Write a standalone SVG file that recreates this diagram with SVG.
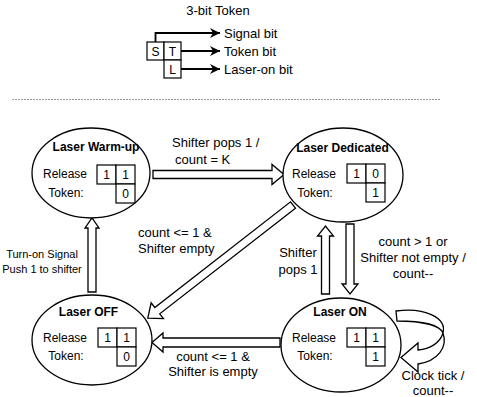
<svg xmlns="http://www.w3.org/2000/svg" width="477" height="397" viewBox="0 0 477 397">
<style>
text{font-family:"Liberation Sans",Arial,sans-serif;font-size:12px;fill:#000}
.lb{font-size:13px}
.sm{font-size:11px}
.t{font-weight:bold}
.c{text-anchor:middle}
.e{text-anchor:end}
.n{fill:#fff;stroke:#000;stroke-width:1.3}
.b{fill:#fff;stroke:#000;stroke-width:1.2}
.a{fill:#fff;stroke:#000;stroke-width:1.3;stroke-linejoin:miter}
.l{fill:none;stroke:#000;stroke-width:1.8}
</style>
<defs>
<marker id="ah" markerUnits="userSpaceOnUse" markerWidth="11" markerHeight="10" refX="10" refY="5" orient="auto">
<path d="M0,0 L10,5 L0,10 L3,5 Z" fill="#000"/>
</marker>
</defs>
<rect width="477" height="397" fill="#fff"/>
<g id="legend">
<text class="c lb" x="218" y="15">3-bit Token</text>
<rect class="b" x="147" y="42" width="17" height="18"/>
<rect class="b" x="164" y="42" width="17" height="18"/>
<rect class="b" x="164" y="60" width="17" height="18"/>
<text class="c" x="155.5" y="55.5">S</text>
<text class="c" x="172.5" y="55.5">T</text>
<text class="c" x="172.5" y="73.5">L</text>
<path class="l" d="M155.5,42 V33 H220" marker-end="url(#ah)"/>
<path class="l" d="M181,51 H220" marker-end="url(#ah)"/>
<path class="l" d="M181,69 H220" marker-end="url(#ah)"/>
<text class="lb" x="224" y="38">Signal bit</text>
<text class="lb" x="224" y="56">Token bit</text>
<text class="lb" x="224" y="74">Laser-on bit</text>
</g>
<line x1="12" y1="99.5" x2="440" y2="99.5" stroke="#999" stroke-width="1" stroke-dasharray="2,1"/>
<g id="connectors">
<polygon class="a" points="153,170.5 272,170.5 272,164.5 284,174.5 272,184.5 272,178.5 153,178.5"/>
<polygon class="a" transform="translate(293,205) rotate(142.1)" points="0,-4 172,-4 172,-10 184,0 172,10 172,4 0,4"/>
<polygon class="a" points="88,292 88,228 85,228 92,218 99,228 96,228 96,292"/>
<polygon class="a" points="280,338 163,338 163,333 152,342.5 163,352 163,347 280,347"/>
<polygon class="a" points="321.5,294 321.5,236 317.5,236 325.5,226 333.5,236 329.5,236 329.5,294"/>
<polygon class="a" points="346,224 346,284 342,284 350,294 358,284 354,284 354,224"/>
<path class="a" d="M396,311 C425,307 447,318 443,333 C440,343 430,349 418,350 L418,343 L401,357.5 L418,372 L418,364 C438,361 448,347 443,333 C440,326 425,321 397,321 Z"/>
<text class="lb" x="172" y="147">Shifter pops 1 /</text>
<text class="lb" x="175" y="164">count = K</text>
<text class="lb" x="138" y="237">count &lt;= 1 &amp;</text>
<text class="lb" x="138" y="253">Shifter empty</text>
<text class="c sm" x="42" y="258">Turn-on Signal</text>
<text class="c sm" x="42" y="273">Push 1 to shifter</text>
<text class="c lb" x="298" y="257">Shifter</text>
<text class="c lb" x="298" y="274">pops 1</text>
<text class="c lb" x="413" y="246">count &gt; 1 or</text>
<text class="c lb" x="413" y="262">Shifter not empty /</text>
<text class="c lb" x="413" y="278">count--</text>
<text class="c lb" x="213" y="361">count &lt;= 1 &amp;</text>
<text class="c lb" x="213" y="376">Shifter is empty</text>
<text class="c lb" x="433" y="380">Clock tick /</text>
<text class="c lb" x="433" y="395">count--</text>
</g>
<g id="warmup">
<ellipse class="n" cx="91" cy="173" rx="59" ry="45"/>
<text class="t c" x="96" y="151">Laser Warm-up</text>
<text class="c" x="65" y="178">Release</text>
<text class="c" x="66" y="197">Token:</text>
<rect class="b" x="97" y="165" width="19" height="19"/>
<rect class="b" x="116" y="165" width="19" height="19"/>
<rect class="b" x="116" y="184" width="19" height="19"/>
<text class="c" x="106.5" y="179">1</text>
<text class="c" x="125.5" y="179">1</text>
<text class="c" x="125.5" y="198">0</text>
</g>
<g id="dedicated">
<ellipse class="n" cx="343" cy="175" rx="60" ry="47"/>
<text class="t c" x="342.5" y="152">Laser Dedicated</text>
<text class="c" x="314" y="178">Release</text>
<text class="c" x="315" y="197">Token:</text>
<rect class="b" x="347" y="164" width="19" height="19"/>
<rect class="b" x="366" y="164" width="19" height="19"/>
<rect class="b" x="366" y="183" width="19" height="19"/>
<text class="c" x="356.5" y="178">1</text>
<text class="c" x="375.5" y="178">0</text>
<text class="c" x="375.5" y="197">1</text>
</g>
<g id="off">
<ellipse class="n" cx="92" cy="340" rx="60" ry="45"/>
<text class="t c" x="88.5" y="316">Laser OFF</text>
<text class="c" x="65" y="342">Release</text>
<text class="c" x="66" y="360">Token:</text>
<rect class="b" x="98" y="328" width="19" height="19"/>
<rect class="b" x="117" y="328" width="19" height="19"/>
<rect class="b" x="117" y="347" width="19" height="19"/>
<text class="c" x="107.5" y="342">1</text>
<text class="c" x="126.5" y="342">1</text>
<text class="c" x="126.5" y="361">0</text>
</g>
<g id="on">
<ellipse class="n" cx="341" cy="345" rx="60" ry="47"/>
<text class="t c" x="340" y="316">Laser ON</text>
<text class="c" x="314" y="342">Release</text>
<text class="c" x="315" y="360">Token:</text>
<rect class="b" x="347" y="328" width="19" height="19"/>
<rect class="b" x="366" y="328" width="19" height="19"/>
<rect class="b" x="366" y="347" width="19" height="19"/>
<text class="c" x="356.5" y="342">1</text>
<text class="c" x="375.5" y="342">1</text>
<text class="c" x="375.5" y="361">1</text>
</g>
</svg>
